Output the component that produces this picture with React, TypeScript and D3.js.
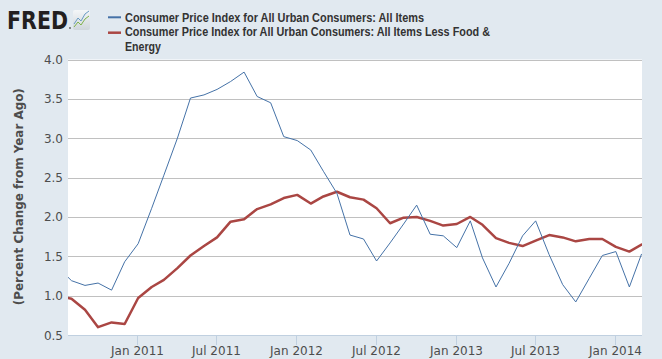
import React from "react";
import * as d3 from "d3";

const months: string[] = [
  "2010-07","2010-08","2010-09","2010-10","2010-11","2010-12",
  "2011-01","2011-02","2011-03","2011-04","2011-05","2011-06","2011-07","2011-08","2011-09","2011-10","2011-11","2011-12",
  "2012-01","2012-02","2012-03","2012-04","2012-05","2012-06","2012-07","2012-08","2012-09","2012-10","2012-11","2012-12",
  "2013-01","2013-02","2013-03","2013-04","2013-05","2013-06","2013-07","2013-08","2013-09","2013-10","2013-11","2013-12",
  "2014-01","2014-02","2014-03",
];

const allItems: number[] = [
  1.36, 1.19, 1.13, 1.16, 1.07, 1.43,
  1.66, 2.11, 2.53, 3.0, 3.51, 3.55, 3.62, 3.72, 3.84, 3.53, 3.45, 3.02,
  2.97, 2.85, 2.58, 2.30, 1.77, 1.72, 1.44, 1.67, 1.91, 2.15, 1.78, 1.76,
  1.61, 1.95, 1.48, 1.11, 1.41, 1.76, 1.95, 1.52, 1.14, 0.92, 1.22, 1.51,
  1.56, 1.11, 1.53,
];

const lessFoodEnergy: number[] = [
  1.0, 0.96, 0.82, 0.60, 0.66, 0.64,
  0.97, 1.11, 1.20, 1.35, 1.51, 1.63, 1.74, 1.94, 1.97, 2.10, 2.16, 2.24,
  2.28, 2.17, 2.26, 2.32, 2.25, 2.22, 2.11, 1.92, 1.99, 2.00, 1.95, 1.89,
  1.91, 2.00, 1.90, 1.73, 1.67, 1.63, 1.70, 1.77, 1.74, 1.69, 1.72, 1.72,
  1.62, 1.56, 1.65,
];

const yTicks: number[] = [0.5, 1.0, 1.5, 2.0, 2.5, 3.0, 3.5, 4.0];
const xTickDates: string[] = ["2011-01", "2011-07", "2012-01", "2012-07", "2013-01", "2013-07", "2014-01"];
const xTickLabels: string[] = ["Jan 2011", "Jul 2011", "Jan 2012", "Jul 2012", "Jan 2013", "Jul 2013", "Jan 2014"];

const seriesNames: string[] = [
  "Consumer Price Index for All Urban Consumers: All Items",
  "Consumer Price Index for All Urban Consumers: All Items Less Food &",
  "Energy",
];

const parseMonth = (s: string) => {
  const [y, m] = s.split("-").map(Number);
  return new Date(y, m - 1, 1);
};

export default function App() {
  const W = 662, H = 359;
  const left = 68, right = 642, top = 59.5, bottom = 335;

  const x = d3.scaleTime()
    .domain([new Date(2010, 6, 24), new Date(2014, 2, 2)])
    .range([left, right]);
  const y = d3.scaleLinear().domain([0.5, 4.0]).range([bottom, top]);

  const dates = months.map(parseMonth);
  const line = d3.line<number>()
    .x((_, i) => x(dates[i]))
    .y((d) => y(d));

  const font = "'DejaVu Sans', Verdana, sans-serif";
  const legendFont = "'Liberation Sans Narrow', 'Liberation Sans', Arial, sans-serif";

  return (
    <svg width={W} height={H} style={{ position: "absolute", left: 0, top: 0 }}>
      <defs>
        <clipPath id="plotclip">
          <rect x={left} y={top - 2} width={right - left} height={bottom - top + 4} />
        </clipPath>
        <linearGradient id="iconbg" x1="0" y1="0" x2="0" y2="1">
          <stop offset="0" stopColor="#f4f6f8" />
          <stop offset="1" stopColor="#cfd6dc" />
        </linearGradient>
      </defs>
      <rect x={0} y={0} width={W} height={H} fill="#e1e9f0" />

      {/* FRED logo */}
      <text x={7} y={29} fontFamily="'DejaVu Sans', Arial, sans-serif" fontWeight={900}
        fontSize={24} fill="#231f20" textLength={61} lengthAdjust="spacingAndGlyphs">FRED</text>
      <circle cx={70} cy={28} r={0.9} fill="#555" />
      <rect x={73} y={10} width={17} height={20} rx={2} fill="url(#iconbg)" />
      <polyline points="74,24 78,18 81,21 85,14 89,11" fill="none" stroke="#6a9bc3" strokeWidth={1} />
      <polyline points="74,27 78,22 81,25 85,19 89,16" fill="none" stroke="#7fb24a" strokeWidth={1} />

      {/* Legend */}
      <line x1={108} x2={121} y1={17.3} y2={17.3} stroke="#4572a7" strokeWidth={2} />
      <line x1={108} x2={121} y1={32.7} y2={32.7} stroke="#aa4643" strokeWidth={2.5} />
      <text x={125} y={21.5} fontFamily={legendFont} fontWeight="bold" fontSize={12.5} fill="#333"
        textLength={299} lengthAdjust="spacingAndGlyphs">{seriesNames[0]}</text>
      <text x={125} y={36.3} fontFamily={legendFont} fontWeight="bold" fontSize={12.5} fill="#333"
        textLength={365} lengthAdjust="spacingAndGlyphs">{seriesNames[1]}</text>
      <text x={125} y={50.8} fontFamily={legendFont} fontWeight="bold" fontSize={12.5} fill="#333"
        textLength={36} lengthAdjust="spacingAndGlyphs">{seriesNames[2]}</text>

      {/* Plot area */}
      <rect x={left} y={top} width={right - left} height={bottom - top} fill="#ffffff" />
      {yTicks.map((t) => (
        <line key={"g" + t} x1={left} x2={right} y1={Math.round(y(t)) + 0.5} y2={Math.round(y(t)) + 0.5}
          stroke="#c0c0c0" strokeWidth={1} />
      ))}
      {yTicks.map((t) => (
        <text key={"yl" + t} x={63} y={y(t) + 4.5} textAnchor="end" fontFamily={font} fontSize={12}
          fill="#4d4d4d">{t.toFixed(1)}</text>
      ))}

      {/* X axis */}
      <line x1={left} x2={right} y1={bottom + 0.5} y2={bottom + 0.5} stroke="#c0d0e0" strokeWidth={1} />
      {xTickDates.map((d, i) => {
        const xx = Math.round(x(parseMonth(d)) - 1) + 0.5;
        return (
          <g key={d}>
            <line x1={xx} x2={xx} y1={bottom} y2={bottom + 10} stroke="#c0d0e0" strokeWidth={1} />
            <text x={xx} y={354.5} textAnchor="middle" fontFamily={font} fontSize={12} fill="#4d4d4d">
              {xTickLabels[i]}
            </text>
          </g>
        );
      })}

      {/* Y axis title */}
      <text transform="translate(22.5,196.7) rotate(-90)" textAnchor="middle" fontFamily={font}
        fontWeight="bold" fontSize={12} fill="#4d4d4d" textLength={217} lengthAdjust="spacingAndGlyphs">
        (Percent Change from Year Ago)
      </text>

      {/* Series */}
      <g clipPath="url(#plotclip)">
        <path d={line(lessFoodEnergy) || ""} fill="none" stroke="#aa4643" strokeWidth={2.5}
          strokeLinejoin="round" strokeLinecap="round" />
        <path d={line(allItems) || ""} fill="none" stroke="#4572a7" strokeWidth={1}
          strokeLinejoin="round" />
      </g>
    </svg>
  );
}
